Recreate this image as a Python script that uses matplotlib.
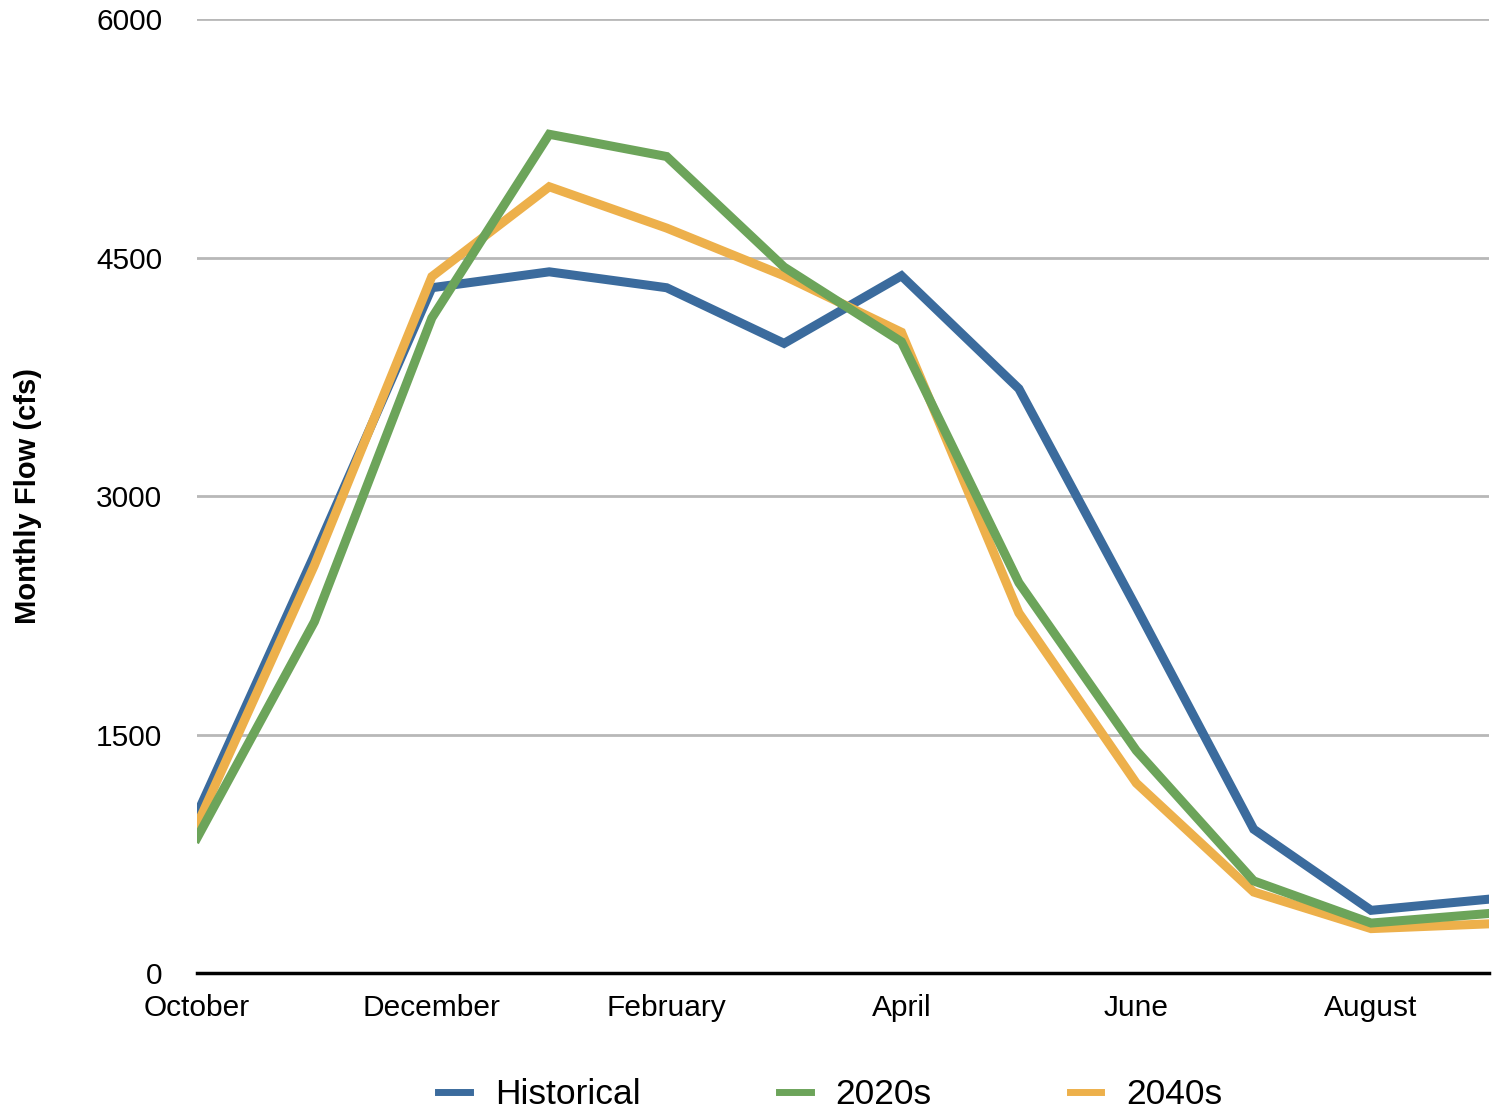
import matplotlib.pyplot as plt
from matplotlib.lines import Line2D

plt.rcParams["font.family"] = ["Liberation Sans", "DejaVu Sans"]

months = ["October", "November", "December", "January", "February", "March",
          "April", "May", "June", "July", "August", "September"]
historical = [1000, 2630, 4310, 4410, 4310, 3960, 4385, 3675, 2300, 905, 395, 465]
s2020 = [850, 2210, 4120, 5275, 5135, 4440, 3970, 2455, 1400, 580, 315, 375]
s2040 = [930, 2565, 4380, 4945, 4685, 4385, 4030, 2265, 1195, 510, 280, 310]

series = [("Historical", historical, "#3b6b9d"),
          ("2020s", s2020, "#6ca45a"),
          ("2040s", s2040, "#edb04b")]

fig = plt.figure(figsize=(14.96, 11.16), dpi=100)
ax = fig.add_axes([0.1317, 0.128, 0.8633, 0.855])

x = list(range(len(months)))
for name, vals, col in [series[0], series[2], series[1]]:
    ax.plot(x, vals, color=col, lw=6.5, solid_joinstyle="miter", label=name, zorder=3)

ax.set_xlim(0, 11)
ax.set_ylim(0, 6000)
ax.set_yticks([0, 1500, 3000, 4500, 6000])
ax.set_xticks(x[::2])
ax.set_xticklabels(months[::2])
ax.grid(axis="y", color="#b8b8b8", lw=2)
ax.set_axisbelow(True)
for s in ["top", "right", "left"]:
    ax.spines[s].set_visible(False)
ax.spines["bottom"].set_linewidth(2.5)
ax.tick_params(length=0, labelsize=21.5)
ax.tick_params(axis="y", pad=25)
ax.tick_params(axis="x", pad=15)
ax.set_ylabel("Monthly Flow (cfs)", fontsize=21, fontweight="bold")
ax.yaxis.set_label_coords(-0.12, 0.5)

handles = [Line2D([0], [0], color=c, lw=5) for _, _, c in series]
fig.legend(handles, [n for n, _, _ in series], loc="center", bbox_to_anchor=(0.555, 0.019),
           ncol=3, frameon=False, fontsize=25.5, handlelength=0.9, columnspacing=3.9,
           handletextpad=0.7)

fig.savefig("out.png", dpi=100)
